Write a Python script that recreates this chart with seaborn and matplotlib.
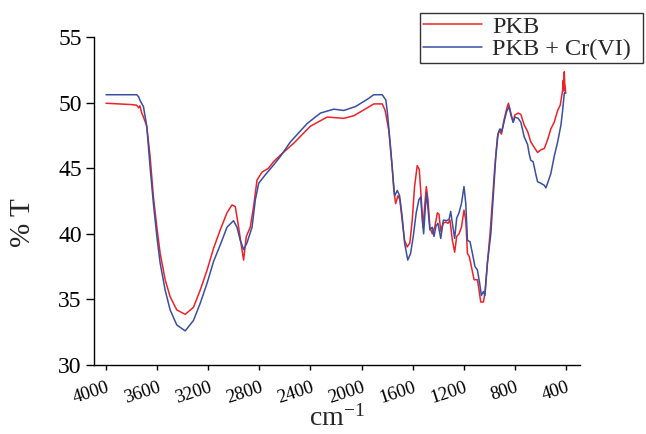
import numpy as np
import pandas as pd
import matplotlib
matplotlib.use("Agg")
import matplotlib.pyplot as plt
from matplotlib.lines import Line2D
import seaborn as sns

# ---- data ----
red_wn = [4000, 3900, 3800, 3760, 3745, 3735, 3720, 3707, 3681, 3655, 3629, 3602, 3576, 3537, 3498, 3446,
          3380, 3315, 3263, 3210, 3158, 3106, 3053, 3014, 2988, 2962, 2936, 2923, 2902, 2871, 2845, 2818,
          2779, 2728, 2688, 2635, 2531, 2400, 2269, 2139, 2060, 1955, 1904, 1838, 1815, 1787, 1760, 1747,
          1733, 1715, 1700, 1682, 1663, 1643, 1622, 1603, 1585, 1564, 1548, 1532, 1519, 1506, 1493, 1480,
          1465, 1446, 1427, 1406, 1394, 1380, 1362, 1341, 1323, 1308, 1289, 1271, 1255, 1237, 1218, 1198,
          1184, 1171, 1156, 1140, 1119, 1093, 1080, 1067, 1046, 1034, 1015, 994, 975, 957, 936, 920,
          905, 884, 862, 850, 831, 813, 800, 774, 753, 727, 700, 675, 649, 622, 596, 570,
          544, 518, 492, 465, 445, 434, 425, 421, 418, 413, 410, 406, 402]
red_t = [49.95, 49.9, 49.85, 49.8, 49.6, 49.75, 49.2, 48.9, 48.2, 45.9, 42.8, 40.5, 38.5, 36.5, 35.2, 34.2,
         33.86, 34.4, 35.7, 37.2, 38.9, 40.3, 41.6, 42.2, 42.07, 40.5, 38.8, 38.0, 39.8, 40.5, 42.07, 44.1,
         44.7, 45.0, 45.5, 46.0, 46.9, 48.2, 48.9, 48.8, 49.0, 49.6, 49.9, 49.9, 49.4, 47.9, 45.1, 43.3,
         42.3, 42.9, 42.6, 41.05, 39.5, 39.0, 39.3, 41.05, 43.6, 45.2, 44.9, 42.6, 40.5, 42.07, 43.6, 42.6,
         40.5, 40.0, 40.5, 41.6, 41.5, 40.2, 40.8, 40.9, 40.8, 41.05, 39.5, 38.6, 39.8, 40.0, 40.5, 41.8,
         41.05, 38.5, 38.25, 37.5, 36.5, 36.5, 35.7, 34.8, 34.8, 35.5, 37.75, 40.0, 42.6, 45.1, 47.4, 47.9,
         47.6, 48.7, 49.6, 49.95, 49.2, 48.5, 49.05, 49.2, 49.1, 48.3, 47.8, 47.0, 46.6, 46.2, 46.4, 46.5,
         47.15, 48.0, 48.5, 49.4, 49.8, 50.45, 51.0, 51.7, 50.9, 52.35, 51.5, 51.2, 50.7]

blue_wn = [4000, 3850, 3760, 3745, 3733, 3707, 3681, 3655, 3629, 3602, 3576, 3537, 3498, 3446, 3380, 3315,
           3263, 3210, 3158, 3106, 3053, 3002, 2975, 2949, 2923, 2897, 2857, 2831, 2805, 2753, 2688, 2635,
           2557, 2426, 2322, 2217, 2139, 2047, 1955, 1904, 1838, 1810, 1798, 1773, 1752, 1741, 1720, 1702,
           1682, 1663, 1638, 1616, 1595, 1572, 1551, 1537, 1524, 1514, 1500, 1490, 1477, 1465, 1446, 1433,
           1417, 1402, 1380, 1359, 1333, 1315, 1302, 1289, 1271, 1255, 1237, 1218, 1198, 1184, 1171, 1151,
           1132, 1112, 1093, 1075, 1062, 1046, 1034, 1015, 988, 968, 949, 931, 916, 902, 878, 865,
           845, 831, 813, 800, 774, 753, 727, 700, 688, 675, 657, 635, 622, 596, 570, 557,
           544, 518, 492, 465, 439, 426, 413, 406]
blue_t = [50.6, 50.6, 50.6, 50.45, 50.15, 49.7, 48.2, 45.1, 42.3, 39.8, 37.75, 35.7, 34.2, 33.05, 32.6, 33.4,
          34.7, 36.2, 37.9, 39.15, 40.5, 41.0, 40.5, 39.5, 38.8, 39.3, 40.5, 42.6, 43.85, 44.5, 45.25, 45.9,
          47.0, 48.4, 49.2, 49.5, 49.4, 49.7, 50.25, 50.6, 50.6, 50.2, 49.3, 46.6, 44.1, 42.9, 43.3, 42.9,
          41.3, 39.3, 38.0, 38.5, 39.8, 41.6, 42.6, 42.8, 41.05, 40.0, 42.07, 43.1, 41.6, 40.3, 40.5, 39.8,
          40.6, 40.8, 39.65, 41.05, 41.0, 41.1, 41.7, 40.8, 39.65, 41.2, 41.6, 42.3, 43.6, 42.3, 39.5, 39.4,
          38.5, 37.5, 37.25, 36.2, 35.3, 35.6, 35.3, 37.75, 40.0, 43.0, 45.9, 47.66, 48.0, 47.8, 48.8, 49.3,
          49.7, 49.05, 48.5, 48.9, 48.8, 48.5, 47.4, 46.8, 46.1, 45.6, 45.5, 44.5, 43.97, 43.85, 43.7, 43.5,
          43.85, 44.6, 45.9, 47.0, 48.3, 49.4, 50.7, 50.8]

series_names = ["PKB", "PKB + Cr(VI)"]
x_ticks = [4000, 3600, 3200, 2800, 2400, 2000, 1600, 1200, 800, 400]
y_ticks = [30, 35, 40, 45, 50, 55]

# ---- style ----
sns.set_style("ticks")
plt.rcParams["font.family"] = ["Liberation Serif", "DejaVu Serif"]
plt.rcParams["mathtext.fontset"] = "custom"
plt.rcParams["mathtext.rm"] = "Liberation Serif"
plt.rcParams["mathtext.it"] = "Liberation Serif:italic"

colors = {series_names[0]: "#ec2227", series_names[1]: "#3a4ea2"}

df = pd.concat([
    pd.DataFrame({"wn": red_wn, "T": red_t, "Sample": series_names[0]}),
    pd.DataFrame({"wn": blue_wn, "T": blue_t, "Sample": series_names[1]}),
], ignore_index=True)

fig = plt.figure(figsize=(6.46, 4.34), dpi=100)
ax = fig.add_axes([94 / 646, 1 - 365 / 434, (580 - 94) / 646, (365 - 37) / 434])

sns.lineplot(data=df, x="wn", y="T", hue="Sample", palette=colors, sort=False,
             estimator=None, linewidth=1.1, ax=ax, legend=False)

ax.set_xlim(4094, 290)
ax.set_ylim(30, 55)
ax.set_xticks(x_ticks)
ax.set_xticklabels([str(v) for v in x_ticks])
ax.set_yticks(y_ticks)
ax.set_yticklabels([str(v) for v in y_ticks], fontsize=17)

for lab in ax.get_xticklabels():
    lab.set_rotation(18)
    lab.set_ha("right")
    lab.set_va("top")
    lab.set_rotation_mode("anchor")
    lab.set_fontsize(13.5)

sns.despine(ax=ax)
for sp in ["left", "bottom"]:
    ax.spines[sp].set_linewidth(1.0)
    ax.spines[sp].set_color("black")
ax.tick_params(axis="both", direction="out", width=1.0, colors="black")
ax.tick_params(axis="x", length=3.8, pad=6)
ax.tick_params(axis="y", length=5.8, pad=3)

ax.set_xlabel(r"cm$^{\mathrm{-1}}$", fontsize=20, va="baseline")
ax.set_ylabel("% T", fontsize=21)
ax.xaxis.set_label_coords(0.5, (365 - 426) / 328)
ax.yaxis.set_label_coords((36 - 94) / 486, (365 - 223) / 328)

handles = [Line2D([], [], color=colors[n], linewidth=1.1) for n in series_names]
leg = ax.legend(handles, series_names, loc="upper left",
                bbox_to_anchor=(420 / 646, 1 - 13 / 434, 223 / 646, 0.0), bbox_transform=fig.transFigure,
                mode="expand", fontsize=17.5, frameon=True, fancybox=False, edgecolor="black",
                borderaxespad=0, borderpad=0.12, handlelength=2.45, handletextpad=0.4,
                labelspacing=0.02)
leg.get_frame().set_linewidth(1.0)

fig.savefig("out.png", dpi=100)
